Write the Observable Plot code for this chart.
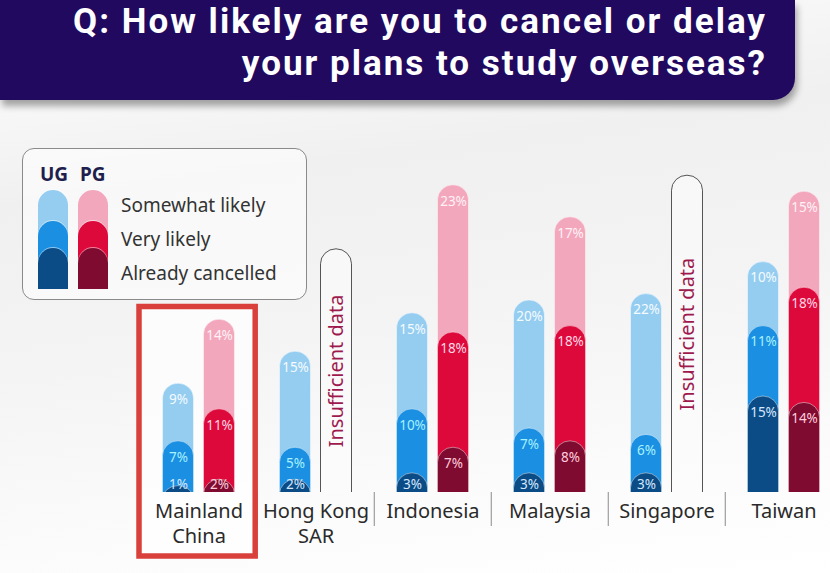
<!DOCTYPE html>
<html><head><meta charset="utf-8">
<script src="https://cdn.jsdelivr.net/npm/d3@7"></script>
<script src="https://cdn.jsdelivr.net/npm/@observablehq/plot@0.6"></script>
<style>
html,body{margin:0;padding:0;}
body{width:830px;height:573px;overflow:hidden;position:relative;
  background:linear-gradient(172deg,#ffffff 0%,#f0f0f0 30%,#f4f4f4 55%,#fbfbfb 80%,#ffffff 100%);
  font-family:"Noto Sans",sans-serif;}
#banner{position:absolute;left:0;top:0;width:795px;height:100px;background:#21095f;
  border-bottom-right-radius:22px;box-shadow:2px 6px 7px rgba(0,0,0,0.35);z-index:3}
#banner div{position:absolute;right:28px;color:#fff;font-family:Roboto;font-weight:700;font-size:35px;white-space:nowrap;line-height:1;letter-spacing:2px}
#chart{position:absolute;left:0;top:100px;z-index:1}
#legend{position:absolute;left:22px;top:148px;width:283px;height:150px;border:1px solid #8a8a8a;border-radius:12px;
  background:rgba(255,255,255,0.55);z-index:2}
#legend .hd{position:absolute;top:12px;font-weight:700;font-size:19px;color:#1f1f4d;}
#legend .seg{position:absolute;width:30px;border-radius:15px 15px 0 0;}
#legend .lt{position:absolute;left:98px;font-size:19px;color:#333;line-height:1}
</style></head>
<body>
<div id="banner">
  <div style="top:4px">Q: How likely are you to cancel or delay</div>
  <div style="top:46px">your plans to study overseas?</div>
</div>
<div id="legend"></div>
<div id="chart"></div>
<script>
// ---- data ----
const categories = ["Mainland China", "Hong Kong SAR", "Indonesia", "Malaysia", "Singapore", "Taiwan"];
const groups = ["UG", "PG"];
const levels = ["Somewhat likely", "Very likely", "Already cancelled"];
const ugAlready  = [1, 2, 3, 3, 3, 15];
const ugVery     = [7, 5, 10, 7, 6, 11];
const ugSomewhat = [9, 15, 15, 20, 22, 10];
const pgAlready  = [2, null, 7, 8, null, 14];
const pgVery     = [11, null, 18, 18, null, 18];
const pgSomewhat = [14, null, 23, 17, null, 15];
const insufficientCats = ["Hong Kong SAR", "Singapore"];
const insufficientHeights = [38, 49.5];
const highlightCat = "Mainland China";
const insufficientText = "Insufficient data";

// ---- styles ----
const colors = {
  UG: {"Somewhat likely": "#95cdf1", "Very likely": "#1b8fe1", "Already cancelled": "#0b4c86"},
  PG: {"Somewhat likely": "#f3a7bc", "Very likely": "#de093b", "Already cancelled": "#7f0b31"}
};
const labelColors = {
  UG: {"Somewhat likely": "#f4fbff", "Very likely": "#a6f2ff", "Already cancelled": "#d4e8ff"},
  PG: {"Somewhat likely": "#fff2f6", "Very likely": "#ffd6e2", "Already cancelled": "#ffcddc"}
};

// ---- build rows ----
const rows = [];
function addGroup(g, a, v, s) {
  categories.forEach((c, i) => {
    if (a[i] == null) return;
    const vals = {"Already cancelled": a[i], "Very likely": v[i], "Somewhat likely": s[i]};
    const tops = {"Already cancelled": a[i], "Very likely": a[i] + v[i], "Somewhat likely": a[i] + v[i] + s[i]};
    levels.forEach(l => rows.push({cat: c, group: g, level: l, value: vals[l], top: tops[l]}));
  });
}
addGroup("UG", ugAlready, ugVery, ugSomewhat);
addGroup("PG", pgAlready, pgVery, pgSomewhat);
const insufficient = insufficientCats.map((c, i) => ({cat: c, h: insufficientHeights[i]}));
const highlightTop = d3.max(rows.filter(d => d.cat === highlightCat), d => d.top);

// ---- layout ----
const W = 830, H = 473, base = 392, pxPer = 6.4;
const xRange = [138.3, 843.3];
const bw = (xRange[1] - xRange[0]) / categories.length;
const barW = 31.5, gap = 9.5;
const side = (bw - 2 * barW - gap) / 2;
const ugInset = {insetLeft: side, insetRight: bw - side - barW};
const pgInset = {insetLeft: bw - side - barW, insetRight: side};
const ugDx = ugInset.insetLeft + barW / 2 - bw / 2;
const pgDx = pgInset.insetLeft + barW / 2 - bw / 2;

const marks = [];
// highlight box fill
marks.push(Plot.barY([highlightCat], {x: d => d, y1: 0, y2: highlightTop, fill: "#ffffff", fillOpacity: 0.7,
  insetTop: -12.7, insetBottom: -64, insetLeft: -1, insetRight: 1.8}));
// bars, drawn back to front
for (const g of groups) {
  const ins = g === "UG" ? ugInset : pgInset;
  for (const l of levels) {
    marks.push(Plot.barY(rows.filter(d => d.group === g && d.level === l), {
      x: "cat", y1: 0, y2: "top", fill: colors[g][l], stroke: "#ffffff", strokeOpacity: 0.45, strokeWidth: 1,
      rx: 15.75, ry: 15, insetBottom: -20, clip: true, ...ins
    }));
  }
}
// insufficient data outlines
marks.push(Plot.barY(insufficient, {x: "cat", y1: 0, y2: "h", fill: "#fbfbfb", fillOpacity: 0.6, stroke: "#555", strokeWidth: 1,
  rx: 15.75, ry: 15, insetBottom: -20, clip: true, ...pgInset}));
marks.push(Plot.text(insufficient, {x: "cat", y: d => d.h / 2, text: () => insufficientText, rotate: -90, dx: pgDx,
  fill: "#9e1a4e", fontSize: 20, fontFamily: "Noto Sans"}));
// value labels
for (const g of groups) {
  marks.push(Plot.text(rows.filter(d => d.group === g), {
    x: "cat", y: d => Math.max(d.top - 2.5, 1.15), text: d => d.value + "%", dx: g === "UG" ? ugDx : pgDx,
    fill: d => labelColors[g][d.level], fontSize: 13.5, fontFamily: "Noto Sans"
  }));
}
// baseline & dividers
marks.push(Plot.ruleY(categories, {x: d => d, y: 0, stroke: "#8a8a8a", strokeWidth: 1}));
marks.push(Plot.ruleX(categories, {x: d => d, y1: 0, y2: 0, insetBottom: -34, dx: -bw / 2, stroke: "#8a8a8a", strokeWidth: 1}));
// category labels
marks.push(Plot.text(categories, {x: d => d, y: 0, text: d => d.replace(" SAR", "\nSAR").replace("Mainland ", "Mainland\n"),
  lineAnchor: "top", dy: 8, fontSize: 20, lineHeight: 1.25, fill: "#2a2a2a", fontFamily: "Noto Sans"}));
// highlight box stroke
marks.push(Plot.barY([highlightCat], {x: d => d, y1: 0, y2: highlightTop, fill: "none", stroke: "#d9403b", strokeWidth: 5.5,
  insetTop: -12.7, insetBottom: -64, insetLeft: -1, insetRight: 1.8}));

const chart = Plot.plot({
  width: W, height: H,
  marginTop: 0, marginLeft: 0, marginRight: 0, marginBottom: H - base,
  style: {background: "transparent", overflow: "visible"},
  x: {domain: categories, range: xRange, padding: 0, axis: null},
  y: {domain: [0, 50], range: [base, base - 50 * pxPer], axis: null},
  marks
});
document.getElementById("chart").appendChild(chart);

// ---- legend (HTML) ----
const leg = document.getElementById("legend");
leg.innerHTML = `<div class="hd" style="left:17px">${groups[0]}</div><div class="hd" style="left:57px">${groups[1]}</div>`;
const segTops = {"Somewhat likely": 41, "Very likely": 72, "Already cancelled": 99};
groups.forEach((g, gi) => {
  levels.forEach(l => {
    const s = document.createElement("div");
    s.className = "seg";
    s.style.left = (15 + gi * 40) + "px";
    s.style.top = segTops[l] + "px";
    s.style.height = (140 - segTops[l]) + "px";
    s.style.background = colors[g][l];
    s.style.boxShadow = "0 -1px 0 rgba(255,255,255,0.5)";
    leg.appendChild(s);
  });
});
const textTops = {"Somewhat likely": 47, "Very likely": 81, "Already cancelled": 115};
levels.forEach(l => {
  const t = document.createElement("div");
  t.className = "lt";
  t.style.top = textTops[l] + "px";
  t.textContent = l;
  leg.appendChild(t);
});
</script>
</body></html>
